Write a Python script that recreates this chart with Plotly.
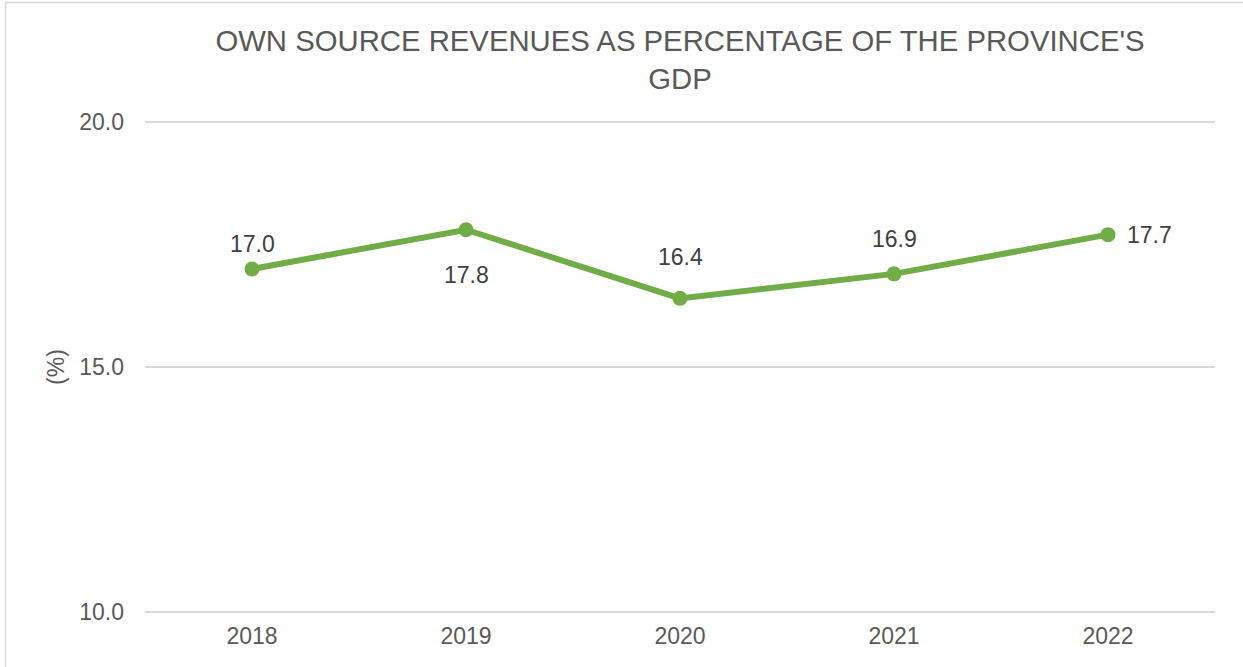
import plotly.graph_objects as go

# Own source revenues as a share of provincial GDP
years = ["2018", "2019", "2020", "2021", "2022"]
share_pct = [17.0, 17.8, 16.4, 16.9, 17.7]
y_ticks = [10.0, 15.0, 20.0]

# label placement around each point (pixels)
label_dx = [0, 0, 0, 0, 41]
label_dy = [25, -45, 41, 35, 0]

W, H = 1243, 667
L, R, T, B = 145, 28, 117, 50
plot_w = W - L - R
plot_h = H - T - B

GREEN = "#70AD47"
GREY = "#595959"
FONT = "Liberation Sans, Arial, sans-serif"

fig = go.Figure()
fig.add_trace(go.Scatter(
    x=years, y=share_pct, mode="lines+markers",
    line=dict(color=GREEN, width=6),
    marker=dict(color=GREEN, size=15),
    hoverinfo="skip", showlegend=False,
))

for i, (v, dx, dy) in enumerate(zip(share_pct, label_dx, label_dy)):
    fig.add_annotation(
        x=i, y=v, text=f"{v:.1f}", showarrow=False,
        xshift=dx, yshift=dy,
        font=dict(family=FONT, size=23, color="#404040"),
    )

# chart-area outline
fig.add_shape(
    type="rect", xref="paper", yref="paper",
    x0=(5.5 - L) / plot_w, x1=(W + 10 - L) / plot_w,
    y0=-(B + 20) / plot_h, y1=(H - B - 2.5) / plot_h,
    line=dict(color="#D9D9D9", width=1.5), layer="below",
)

fig.update_layout(
    width=W, height=H,
    margin=dict(l=L, r=R, t=T, b=B),
    paper_bgcolor="white", plot_bgcolor="white",
    font=dict(family=FONT, color=GREY),
    title=dict(
        text="OWN SOURCE REVENUES AS PERCENTAGE OF THE PROVINCE'S<br>GDP",
        x=0.5, xref="paper", xanchor="center",
        y=1 - 51 / H, yref="container", yanchor="top",
        font=dict(family=FONT, size=29.3, color=GREY),
    ),
    xaxis=dict(
        type="category", range=[-0.5, 4.5],
        showgrid=False, zeroline=False, showline=False,
        ticks="", tickfont=dict(family=FONT, size=23, color=GREY),
        ticklabelstandoff=3,
    ),
    yaxis=dict(
        range=[9.9, 20.1], tickvals=y_ticks,
        ticktext=[f"{t:.1f}" for t in y_ticks],
        showgrid=True, gridcolor="#D9D9D9", gridwidth=1.5,
        zeroline=False, showline=False, ticks="",
        tickfont=dict(family=FONT, size=23, color=GREY),
        ticklabelstandoff=20,
        title=dict(text="(%)", standoff=8,
                   font=dict(family=FONT, size=23, color=GREY)),
    ),
)

fig.write_html("out.html")
